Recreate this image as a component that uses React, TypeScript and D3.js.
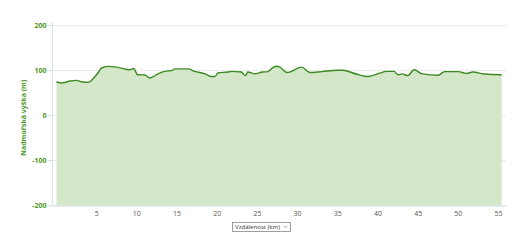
import React from "react";
import * as d3 from "d3";

const distanceKm = [0, 0.65, 1.7, 2.5, 3.1, 4.0, 4.5, 5.2, 5.6, 6.4, 7.5, 8.5, 9.1, 9.6, 10.1, 11.0, 11.6, 12.5, 13.3, 13.5, 14.1, 14.4, 14.7, 16.4, 17.2, 18.5, 19.3, 19.7, 20.1, 21.3, 21.8, 23.0, 23.5, 23.8, 24.7, 25.6, 26.3, 27.0, 27.4, 27.8, 28.7, 30.5, 31.5, 33.0, 35.0, 35.6, 37.4, 38.8, 40.3, 41.0, 42.0, 42.5, 43.0, 43.7, 44.5, 45.5, 47.5, 48.3, 50.0, 51.0, 51.8, 53.3, 55.4];
const elevationM = [75.5, 72.6, 77, 78.5, 75.5, 74, 81.5, 96, 106, 109.6, 108, 103.7, 102, 105, 91, 90.4, 83.7, 91.8, 97.8, 98.5, 100, 100.7, 104, 104, 98.5, 93, 87, 87, 95, 97, 98.5, 97, 89, 97, 93, 97, 98, 108, 110, 108, 96, 108, 96, 98, 101, 101, 92, 87, 95, 98.5, 98.5, 91, 93, 89, 102, 93, 90, 98, 98, 94, 97, 92.6, 91];
const yTicks = [-200, -100, 0, 100, 200];
const xTicks = [5, 10, 15, 20, 25, 30, 35, 40, 45, 50, 55];
const yTitle = "Nadmořská výška (m)";
const xSelectLabel = "Vzdálenost (km)";

export default function App() {
  const W = 519, H = 244;
  const left = 52.5, right = 506, top = 25.7, bottom = 205.7;
  const x = d3.scaleLinear().domain([0, 55]).range([56.5, 498.5]);
  const y = d3.scaleLinear().domain([-200, 200]).range([bottom, top]);
  const pts = distanceKm.map((d, i) => [d, elevationM[i]] as [number, number]);
  const area = d3.area<[number, number]>().x(d => x(d[0])).y0(y(-200)).y1(d => y(d[1])).curve(d3.curveMonotoneX);
  const line = d3.line<[number, number]>().x(d => x(d[0])).y(d => y(d[1])).curve(d3.curveMonotoneX);
  const green = "#4c9a2a";
  const selX = 232.5, selY = 222, selW = 58, selH = 9;
  return (
    <svg width={W} height={H} style={{ position: "absolute", left: 0, top: 0 }} fontFamily="'Open Sans', sans-serif">
      {yTicks.map(t => (
        <line key={t} x1={left} x2={right} y1={y(t)} y2={y(t)} stroke="#e8e8e8" strokeWidth={1} />
      ))}
      <path d={area(pts) || ""} fill="#d4e7c9" />
      <path d={line(pts) || ""} fill="none" stroke="#3d8a22" strokeWidth={1.4} />
      <line x1={left} x2={left} y1={top - 4} y2={bottom} stroke="#dde3ec" strokeWidth={1} />
      <line x1={left} x2={right} y1={bottom + 0.5} y2={bottom + 0.5} stroke="#dde3ec" strokeWidth={1} />
      {yTicks.map(t => (
        <g key={t}>
          <line x1={left - 4} x2={left} y1={y(t)} y2={y(t)} stroke="#cfd6e0" />
          <text x={left - 6} y={y(t)} dy="0.35em" textAnchor="end" fontSize={7} fontWeight="bold" fill={green}>{t}</text>
        </g>
      ))}
      {xTicks.map(t => (
        <text key={t} x={x(t)} y={bottom + 8} dy="0.35em" textAnchor="middle" fontSize={7} fill="#555">{t}</text>
      ))}
      <text transform={`translate(24, ${(top + bottom) / 2 + 2}) rotate(-90)`} textAnchor="middle" dy="0.35em" fontSize={7} fontWeight="bold" fill={green}>{yTitle}</text>
      <rect x={selX} y={selY + 0.5} width={selW} height={selH} fill="#fff" stroke="#888" strokeWidth={0.8} />
      <text x={selX + 2.5} y={selY + selH / 2 + 0.5} dy="0.35em" fontSize={6} textLength={45} lengthAdjust="spacingAndGlyphs" fill="#333">{xSelectLabel}</text>
      <path d={`M${selX + selW - 7},${selY + 3.8} l2,2 l2,-2`} fill="none" stroke="#777" strokeWidth={0.7} />
    </svg>
  );
}
